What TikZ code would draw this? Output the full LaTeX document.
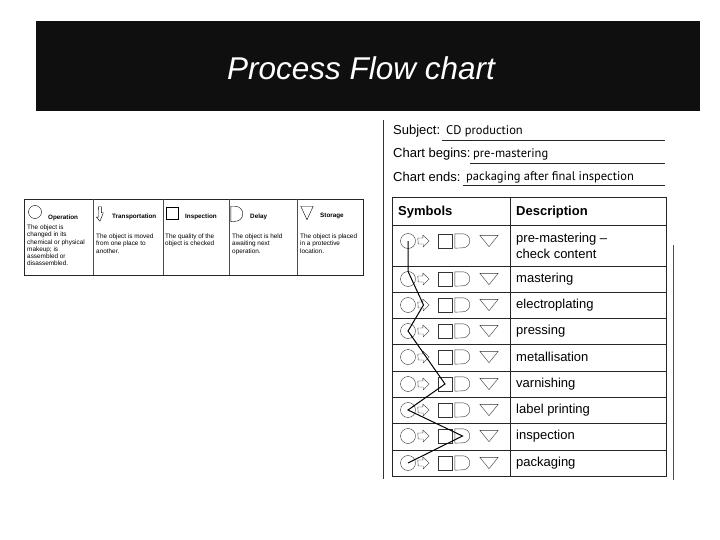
\documentclass[tikz,border=0pt]{standalone}
\usepackage{fontspec}
\setmainfont{Liberation Sans}
\newfontfamily\handfont{PT Sans}
\usetikzlibrary{positioning}

\begin{document}
\begin{tikzpicture}[x=1pt, y=-1pt,
    symslot/.style={inner sep=0pt, minimum width=14pt, minimum height=14pt},
    ringsym/.style={circle, draw, inner sep=0pt, minimum size=#1},
    boxsym/.style={draw, inner sep=0pt, minimum width=#1, minimum height=#1},
    formtext/.style={anchor=west, inner sep=0pt, font=\fontsize{13}{15.5}\selectfont},
    handtext/.style={anchor=base west, inner sep=0pt, font=\handfont\fontsize{12.5}{15}\selectfont},
    rowtext/.style={anchor=west, inner sep=0pt, align=left, font=\fontsize{13}{16.5}\selectfont},
    keytext/.style={anchor=north west, inner sep=0pt, align=left, font=\fontsize{6.4}{7.1}\selectfont},
    keylabel/.style={anchor=west, inner sep=0pt, font=\bfseries\fontsize{6.3}{7}\selectfont}]
    \def\symx{408}

    \useasboundingbox (0,0) rectangle (720,540);

    % Title banner
    \fill[black!94] (36,21) rectangle (700,111);
    \node[text=white, font=\itshape\fontsize{31.5}{36}\selectfont] (title) at (361,68) {Process Flow chart};

    % Key of the five symbols
    \draw[line width=0.8pt, black!85] (24,199) rectangle (363,275);
    \foreach \xx in {93,163,229,297}
        \draw[line width=0.6pt, black!70] (\xx,199) -- (\xx,275);

    \node[ringsym=13pt] (k-op) at (35,212) {};
    \node[symslot, minimum width=7pt, minimum height=14pt] (k-tr) at (100,214) {};
    \draw (k-tr.north west) ++(2,0) -- ++(3,0) -- ++(0,6) -- ++(2,0) -- (k-tr.south) -- ++(-3.5,-4) -- ++(2,0) -- ++(0,-6) -- cycle;
    \node[boxsym=12pt] (k-in) at (172,213) {};
    \node[symslot, minimum width=12pt, minimum height=15pt] (k-de) at (237,214) {};
    \draw (k-de.north west) -- ++(4.5,0) arc[start angle=90, end angle=-90, radius=7.5pt] -- (k-de.south west) -- cycle;
    \node[symslot, minimum width=12pt, minimum height=13pt] (k-st) at (307,213) {};
    \draw (k-st.north west) -- (k-st.north east) -- (k-st.south) -- cycle;

    \node[keylabel] (l-op) at (48,218) {Operation};
    \node[keylabel] (l-tr) at (112,217) {Transportation};
    \node[keylabel] (l-in) at (185,217) {Inspection};
    \node[keylabel] (l-de) at (250,217) {Delay};
    \node[keylabel] (l-st) at (320,216) {Storage};

    \node[keytext] (x-op) at (27,225) {The object is\\changed in its\\chemical or physical\\makeup; is\\assembled or\\disassembled.};
    \node[keytext] (x-tr) at (96,234) {The object is moved\\from one place to\\another.};
    \node[keytext] (x-in) at (165,234) {The quality of the\\object is checked};
    \node[keytext] (x-de) at (232,234) {The object is held\\awaiting next\\operation.};
    \node[keytext] (x-st) at (300,234) {The object is placed\\in a protective\\location.};

    % Chart form
    \draw[line width=0.8pt, black!80] (383,120) -- (383,479);
    \draw[line width=0.8pt, black!70] (673,245) -- (673,480);

    \node[formtext] (subj) at (393,131) {Subject:};
    \node[handtext] (subj-v) at (446,135) {CD production};
    \draw[black!85] (442,140) -- (665,140);
    \node[formtext] (begin) at (393,154) {Chart begins:};
    \node[handtext] (begin-v) at (473,158) {pre-mastering};
    \draw[black!85] (470,163) -- (665,163);
    \node[formtext] (ends) at (393,177) {Chart ends:};
    \node[handtext] (ends-v) at (466,181) {packaging after final inspection};
    \draw[black!85] (463,185) -- (665,185);

    \draw[line width=1pt, black!85] (392,198) rectangle (666,476);
    \draw[line width=0.8pt, black!85] (510,198) -- (510,476);
    \foreach \yy in {225,266,292,318,344,371,397,423,450}
        \draw[line width=0.8pt, black!85] (392,\yy) -- (666,\yy);
    \node[formtext, font=\bfseries\fontsize{13}{15.5}\selectfont] (sym-h) at (398,212) {Symbols};
    \node[formtext, font=\bfseries\fontsize{13}{15.5}\selectfont] (desc-h) at (516,212) {Description};

    % One row per step: symbols and description
    \foreach \i/\ys/\yt/\txt in {1/241/246/{pre-mastering --\\check content}, 2/279/279/mastering,
        3/305/305/electroplating, 4/331/331/pressing, 5/357/357/metallisation,
        6/384/384/varnishing, 7/410/410/label printing, 8/436/436/inspection, 9/463/463/packaging} {
        \node[ringsym=15pt, black!80] (c\i) at (\symx,\ys) {};
        \node[symslot, minimum width=11pt, minimum height=12pt] (a\i) at (423.5,\ys) {};
        \draw[black!80, line join=round] (a\i.west) ++(0,-3) -- ++(5,0) -- ++(0,-3) -- (a\i.east) -- ++(-6,6) -- ++(0,-3) -- ++(-5,0) -- cycle;
        \node[boxsym=14pt, black!80] (s\i) at (445,\ys) {};
        \node[symslot, minimum width=15pt] (d\i) at (462.5,\ys) {};
        \draw[black!80] (d\i.north west) -- ++(8,0) arc[start angle=90, end angle=-90, radius=7pt] -- (d\i.south west) -- cycle;
        \node[symslot, minimum width=18pt, minimum height=11pt] (t\i) at (489,\ys) {};
        \draw[black!80, line join=round] (t\i.north west) -- (t\i.north east) -- (t\i.south) -- cycle;
        \node[rowtext] (r\i) at (516,\yt) {\txt};
    }

    % Path of the process through the symbols
    \draw[line width=1pt] (c1.center) -- (c2.north) -- (a3.center) -- (c4.center) -- (s6.center)
        -- (c7.center) -- (d8.center) -- (c9.center);
\end{tikzpicture}
\end{document}
